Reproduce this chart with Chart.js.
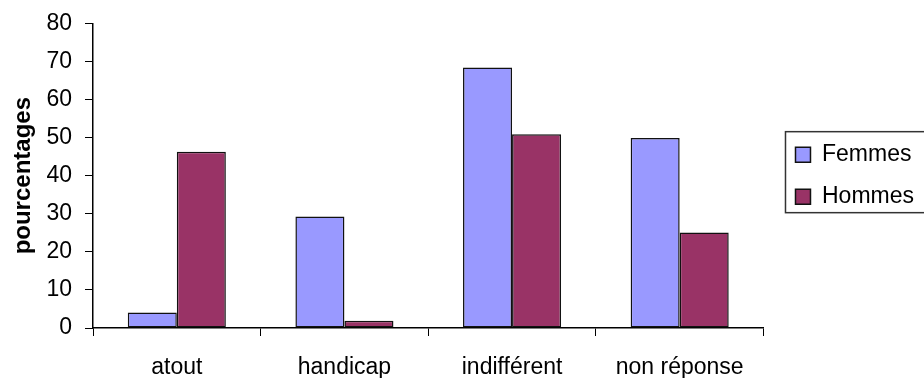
<!DOCTYPE html>
<html>
<head>
<meta charset="utf-8">
<script src="https://cdn.jsdelivr.net/npm/chart.js@4/dist/chart.umd.min.js"></script>
<style>
  html, body { margin: 0; padding: 0; background: #fff; }
  #wrap { width: 924px; height: 381px; position: relative; }
</style>
</head>
<body>
<div id="wrap"><canvas id="myChart"></canvas></div>
<script>
// data
var categories = ['atout', 'handicap', 'indifférent', 'non réponse'];
var femmes = [4.1, 29.3, 68.4, 49.9];
var hommes = [46.3, 1.9, 50.9, 25.1];
var yTicks = [0, 10, 20, 30, 40, 50, 60, 70, 80];

var FONT = "'Liberation Sans', Arial, sans-serif";
var LEGEND_SHIFT = 13; // legend sits a bit right of the plot edge

// move the legend to the right after layout, and draw a frame round it
var legendFrame = {
    id: 'legendFrame',
    afterLayout: function (chart) {
        var lg = chart.legend;
        lg.left += LEGEND_SHIFT;
        lg.right += LEGEND_SHIFT;
    },
    afterDraw: function (chart) {
        var lg = chart.legend;
        var hb = lg.legendHitBoxes;
        if (!hb || !hb.length) return;
        var first = hb[0], last = hb[hb.length - 1];
        var ctx = chart.ctx;
        var top = first.top + first.height / 2 - 23;
        var bottom = last.top + last.height / 2 + 16;
        var left = first.left - 10;
        ctx.save();
        ctx.strokeStyle = '#333';
        ctx.lineWidth = 1.5;
        ctx.strokeRect(left, top, chart.width - left + 5, bottom - top);
        ctx.restore();
    }
};

var ctx = document.getElementById('myChart');
var chart = new Chart(ctx, {
    type: 'bar',
    data: {
        labels: categories,
        datasets: [{
            label: 'Femmes',
            data: femmes,
            backgroundColor: '#9999FF',
            borderColor: '#111',
            borderWidth: 1.5,
            borderSkipped: false
        }, {
            label: 'Hommes',
            data: hommes,
            backgroundColor: '#993366',
            borderColor: '#111',
            borderWidth: 1.5,
            borderSkipped: false
        }]
    },
    options: {
        responsive: true,
        maintainAspectRatio: false,
        animation: false,
        layout: {
            autoPadding: false,
            padding: { top: 19.2, right: LEGEND_SHIFT, bottom: 3, left: 0 }
        },
        datasets: {
            bar: { categoryPercentage: 0.585, barPercentage: 1 }
        },
        scales: {
            x: {
                afterFit: function (scale) { scale.height = 50; },
                grid: { drawOnChartArea: false, drawTicks: true, tickLength: 8, color: '#000', offset: true },
                border: { color: '#000', width: 1.5 },
                ticks: { color: '#000', padding: 18, font: { family: FONT, size: 23 } }
            },
            y: {
                min: 0,
                max: 80,
                afterBuildTicks: function (scale) {
                    scale.ticks = yTicks.map(function (v) { return { value: v }; });
                },
                afterFit: function (scale) { scale.width = 93; },
                grid: { drawOnChartArea: false, drawTicks: true, tickLength: 8, color: '#000' },
                border: { color: '#000', width: 1.5 },
                ticks: { color: '#000', padding: 13, font: { family: FONT, size: 23, lineHeight: 0.9 } },
                title: {
                    display: true,
                    text: 'pourcentages',
                    color: '#000',
                    padding: { top: 9, bottom: 9 },
                    font: { family: FONT, size: 24, weight: 'bold' }
                }
            }
        },
        plugins: {
            tooltip: { enabled: false },
            legend: {
                position: 'right',
                align: 'center',
                fullSize: false,
                labels: {
                    color: '#000',
                    boxWidth: 15,
                    boxHeight: 15,
                    padding: 19,
                    font: { family: FONT, size: 23 }
                }
            }
        }
    },
    plugins: [legendFrame]
});
</script>
</body>
</html>
